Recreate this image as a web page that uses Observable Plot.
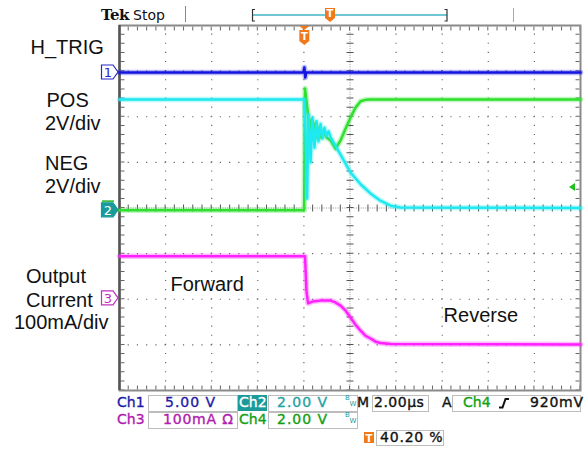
<!DOCTYPE html>
<html><head><meta charset="utf-8">
<script src="https://cdn.jsdelivr.net/npm/d3@7"></script>
<script src="https://cdn.jsdelivr.net/npm/@observablehq/plot@0.6"></script>
<style>
html,body{margin:0;padding:0;background:#fff;}
#chart{width:587px;height:449px;}
</style></head><body><div id="chart"></div>
<script>
// Time in µs relative to trigger (2 µs/div, trigger at 40.20 %), values in screen divisions (0 = centre line)
const ch1Time = [-8.04, -0.06, -0.02, 0.02, 0.06, 11.96];
const ch1Div  = [2.97, 2.97, 3.08, 2.86, 2.97, 2.97];

const ch2Time = [-8.04, -0.02, 0.03, 0.10, 0.16, 0.25, 0.33, 0.42, 0.51, 0.59, 0.68, 0.77, 0.85, 0.94, 1.03, 1.12, 1.55, 1.98, 2.42, 2.85, 3.28, 3.72, 4.15, 11.96];
const ch2Div  = [2.38, 2.38, 1.70, 0.21, 2.05, 1.00, 1.98, 1.32, 1.90, 1.46, 1.84, 1.53, 1.76, 1.58, 1.68, 1.55, 1.17, 0.78, 0.52, 0.32, 0.16, 0.05, 0.01, 0.00];

const ch4Time = [-8.04, -0.03, 0.01, 0.12, 0.20, 0.29, 0.38, 0.46, 0.55, 0.64, 0.72, 0.81, 0.94, 1.12, 1.33, 1.55, 1.77, 1.98, 2.20, 2.42, 2.63, 2.85, 11.96];
const ch4Div  = [-0.05, -0.05, 2.62, 2.14, 1.62, 1.94, 1.50, 1.86, 1.53, 1.77, 1.54, 1.68, 1.55, 1.48, 1.30, 1.48, 1.74, 1.98, 2.20, 2.34, 2.37, 2.38, 2.38];

const ch3Time = [-8.04, 0.01, 0.07, 0.14, 0.33, 0.68, 1.12, 1.33, 1.55, 1.77, 1.98, 2.20, 2.42, 2.63, 2.85, 3.07, 3.28, 3.72, 11.96];
const ch3Div  = [-1.06, -1.06, -1.81, -2.09, -2.05, -2.03, -2.03, -2.07, -2.14, -2.25, -2.40, -2.56, -2.69, -2.80, -2.86, -2.93, -2.96, -2.98, -2.99];

// graticule
const gridTimes = [-8.04, -6.04, -4.04, -2.04, -0.04, 1.96, 3.96, 5.96, 7.96, 9.96, 11.96];
const gridDivs = [-4, -3, -2, -1, 0, 1, 2, 3, 4];
const centreTime = 1.96, centreDiv = 0;

// channel ground reference markers (divisions)
const refLabels = ["1", "2", "3"];
const refLevels = [2.97, -0.05, -1.98];
const ch4RefLevel = 0.14;
const trigLevel = 0.45;

// annotations
const noteText = ["Forward", "Reverse"];
const noteTime = [-5.83, 6.02];
const noteDiv = [-1.67, -2.35];

const zip = (t, v) => t.map((d, i) => ({t: d, v: v[i]}));
const c1 = zip(ch1Time, ch1Div), c2 = zip(ch2Time, ch2Div), c3 = zip(ch3Time, ch3Div), c4 = zip(ch4Time, ch4Div);
const notes = noteText.map((s, i) => ({s, t: noteTime[i], v: noteDiv[i]}));

const W = 587, H = 449;
const pitchX = 461 / 10 / 5, pitchY = 365 / 8 / 5;
const dotX = `1.2 ${pitchX - 1.2}`, dotY = `1.2 ${pitchY - 1.2}`;
const tickX = `1 ${pitchX - 1}`, tickY = `1 ${pitchY - 1}`;

const COL = {blue: "#1414e0", cyan: "#1ee8f0", green: "#2fe02f", mag: "#ff20ff"};

function trace(data, color) {
  return [
    Plot.line(data, {x: "t", y: "v", stroke: color, strokeWidth: 5.5, strokeOpacity: 0.3}),
    Plot.line(data, {x: "t", y: "v", stroke: color, strokeWidth: 2.5})
  ];
}

const chart = Plot.plot({
  width: W, height: H,
  marginLeft: 119, marginRight: 7, marginTop: 25, marginBottom: 59,
  x: {domain: [-8.04, 11.96], axis: null},
  y: {domain: [-4, 4], axis: null},
  style: {background: "#fff", overflow: "visible"},
  marks: [
    Plot.ruleX(gridTimes.slice(1, -1).filter(d => d !== centreTime), {stroke: "#666", strokeWidth: 1.2, strokeDasharray: dotY, strokeDashoffset: 0.6}),
    Plot.ruleY(gridDivs.slice(1, -1).filter(d => d !== centreDiv), {stroke: "#666", strokeWidth: 1.2, strokeDasharray: dotX, strokeDashoffset: 0.6}),
    Plot.ruleX([centreTime], {stroke: "#999", strokeWidth: 1, strokeDasharray: "1 1.3"}),
    Plot.ruleY([centreDiv], {stroke: "#999", strokeWidth: 1, strokeDasharray: "1 1.3"}),
    Plot.ruleX([centreTime], {stroke: "#555", strokeWidth: 7, strokeDasharray: tickY, strokeDashoffset: 0.5}),
    Plot.ruleY([centreDiv], {stroke: "#555", strokeWidth: 7, strokeDasharray: tickX, strokeDashoffset: 0.5}),
    // border ticks
    Plot.ruleX([gridTimes[0]], {dx: 3, stroke: "#666", strokeWidth: 4, strokeDasharray: tickY, strokeDashoffset: 0.5}),
    Plot.ruleX([gridTimes[10]], {dx: -3, stroke: "#666", strokeWidth: 4, strokeDasharray: tickY, strokeDashoffset: 0.5}),
    Plot.ruleY([gridDivs[8]], {dy: 3, stroke: "#666", strokeWidth: 4, strokeDasharray: tickX, strokeDashoffset: 0.5}),
    Plot.ruleY([gridDivs[0]], {dy: -3, stroke: "#666", strokeWidth: 4, strokeDasharray: tickX, strokeDashoffset: 0.5}),
    Plot.frame({stroke: "#8a8a8a", strokeWidth: 2}),
    Plot.ruleX([gridTimes[0]], {stroke: "#555", strokeWidth: 2.5}),
    ...trace(c4, COL.green),
    ...trace(c2, COL.cyan),
    ...trace(c1, COL.blue),
    ...trace(c3, COL.mag),
    Plot.text(notes, {x: "t", y: "v", text: "s", textAnchor: "start", fontSize: 20, fontFamily: "Liberation Sans, Arial, sans-serif", fill: "#111"})
  ]
});
document.getElementById("chart").appendChild(chart);

const xs = chart.scale("x"), ys = chart.scale("y");
const svg = d3.select(chart);
const g = svg.append("g").attr("text-anchor", "start");
const SANS = "Liberation Sans, Arial, sans-serif";
const MONO = "DejaVu Sans, sans-serif";

// left labels
const leftLabels = [
  ["H_TRIG", 30.5, 54], ["POS", 46.5, 107], ["2V/div", 45, 130], ["NEG", 45, 170], ["2V/div", 45, 193],
  ["Output", 26, 283], ["Current", 26, 307], ["100mA/div", 14, 329]
];
leftLabels.forEach(([s, x, y]) => g.append("text").attr("x", x).attr("y", y).attr("font-family", SANS).attr("font-size", 20).attr("fill", "#111").text(s));

// Header
g.append("text").attr("x", 101).attr("y", 20).attr("font-family", "DejaVu Serif, serif").attr("font-weight", "bold").attr("font-size", 15).attr("letter-spacing", "-0.5").attr("fill", "#111").text("Tek");
g.append("text").attr("x", 133).attr("y", 20).attr("font-family", MONO).attr("font-size", 14).attr("fill", "#111").text("Stop");
g.append("line").attr("x1", 185.5).attr("x2", 185.5).attr("y1", 6).attr("y2", 22).attr("stroke", "#888").attr("stroke-width", 1);
g.append("line").attr("x1", 513.5).attr("x2", 513.5).attr("y1", 8).attr("y2", 22).attr("stroke", "#aaa").attr("stroke-width", 1);
g.append("line").attr("x1", 253).attr("x2", 447).attr("y1", 15).attr("y2", 15).attr("stroke", "#40b4c4").attr("stroke-width", 1.5);
g.append("path").attr("d", "M255,9.5 H252.5 V21 H255").attr("fill", "none").attr("stroke", "#333").attr("stroke-width", 1.2);
g.append("path").attr("d", "M444.5,9.5 H447 V21 H444.5").attr("fill", "none").attr("stroke", "#333").attr("stroke-width", 1.2);

function tMarker(cx, top, h) {
  const w = 10;
  const gg = g.append("g");
  gg.append("path").attr("d", `M${cx - w / 2},${top} H${cx + w / 2} V${top + h - 4} L${cx},${top + h} L${cx - w / 2},${top + h - 4} Z`).attr("fill", "#f07a1a");
  gg.append("text").attr("x", cx).attr("y", top + h - 5).attr("text-anchor", "middle").attr("font-family", MONO).attr("font-weight", "bold").attr("font-size", 10).attr("fill", "#fff").text("T");
}
tMarker(330, 8, 14);
g.append("path").attr("d", `M${xs.apply(0) - 5},26 H${xs.apply(0) + 5} L${xs.apply(0)},30 Z`).attr("fill", "#f07a1a");
tMarker(xs.apply(0), 30, 15);

// channel reference markers
const refStyles = [
  {stroke: "#2828c8", fill: "#fff", text: "#2828c8"},
  {stroke: "#1a9a9a", fill: "#1a9a9a", text: "#fff"},
  {stroke: "#c030c0", fill: "#fff", text: "#c030c0"}
];
g.append("line").attr("x1", 102).attr("x2", 114).attr("y1", ys.apply(ch4RefLevel)).attr("y2", ys.apply(ch4RefLevel)).attr("stroke", "#20b020").attr("stroke-width", 1.5);
refLabels.forEach((s, i) => {
  const y = ys.apply(refLevels[i]);
  const st = refStyles[i];
  g.append("path").attr("d", `M101.5,${y - 7} H113 L118,${y} L113,${y + 7} H101.5 Z`).attr("fill", st.fill).attr("stroke", st.stroke).attr("stroke-width", 1.2);
  g.append("text").attr("x", 108).attr("y", y + 5).attr("text-anchor", "middle").attr("font-family", MONO).attr("font-size", 13).attr("fill", st.text).text(s);
});
// Ch4 trigger level arrow at right
{
  const y = ys.apply(trigLevel);
  g.append("path").attr("d", `M569,${y} L575,${y - 4} L575,${y + 4} Z`).attr("fill", "#20c020");
}

// readout
function box(x1, y1, x2, y2) {
  g.append("rect").attr("x", x1 + 0.5).attr("y", y1 + 0.5).attr("width", x2 - x1).attr("height", y2 - y1).attr("fill", "#fff").attr("stroke", "#bdbdbd").attr("stroke-width", 1);
}
function txt(s, x, y, color, opts = {}) {
  const t = g.append("text").attr("x", x).attr("y", y).attr("font-family", MONO).attr("font-size", opts.size || 14).attr("letter-spacing", opts.ls ?? 1).attr("fill", color).attr("stroke", opts.thin ? "none" : color).attr("stroke-width", 0.35).text(s);
  if (opts.anchor) t.attr("text-anchor", opts.anchor);
  return t;
}
box(148, 395, 237, 411); box(268, 395, 357, 411); box(372, 395, 428, 411); box(452, 395, 580, 411);
box(148, 412, 237, 428); box(268, 412, 357, 428);
box(376, 430, 443, 445);
g.append("rect").attr("x", 238).attr("y", 395).attr("width", 29).attr("height", 16).attr("fill", "#1a9a9a");

txt("Ch1", 117, 407, "#1c1ca8", {ls: 0});
txt("5.00 V", 165, 407, "#1c1ca8");
txt("Ch2", 239, 407, "#fff", {ls: 0});
txt("2.00 V", 277, 407, "#1fa3a6");
txt("M", 357, 407, "#111", {ls: 0});
txt("2.00µs", 374, 407, "#111", {ls: 0.5});
txt("A", 442, 407, "#111", {ls: 0});
txt("Ch4", 463, 407, "#12a012", {ls: 0});
g.append("path").attr("d", "M499,407.5 L502.5,407.5 L505.5,399 L509,399").attr("fill", "none").attr("stroke", "#111").attr("stroke-width", 2);
txt("920mV", 530, 407, "#111", {ls: 0.8});

txt("Ch3", 117, 424, "#b020b0", {ls: 0});
txt("100mA Ω", 163, 424, "#b020b0", {ls: 0.8});
txt("Ch4", 239, 424, "#12a012", {ls: 0});
txt("2.00 V", 277, 424, "#12a012");
[[400], [417]].forEach(([y]) => {
  txt("B", 345, y, "#1a9a9a", {size: 7, ls: 0, thin: true});
  txt("W", 349.5, y + 6, "#1a9a9a", {size: 7, ls: 0, thin: true});
});
g.append("rect").attr("x", 364).attr("y", 432).attr("width", 10).attr("height", 11).attr("fill", "#f07a1a");
txt("T", 369, 441.5, "#fff", {size: 10, ls: 0, anchor: "middle", thin: true}).attr("font-weight", "bold");
txt("40.20 %", 380, 442, "#111", {ls: 0.8});
</script>
</body></html>
